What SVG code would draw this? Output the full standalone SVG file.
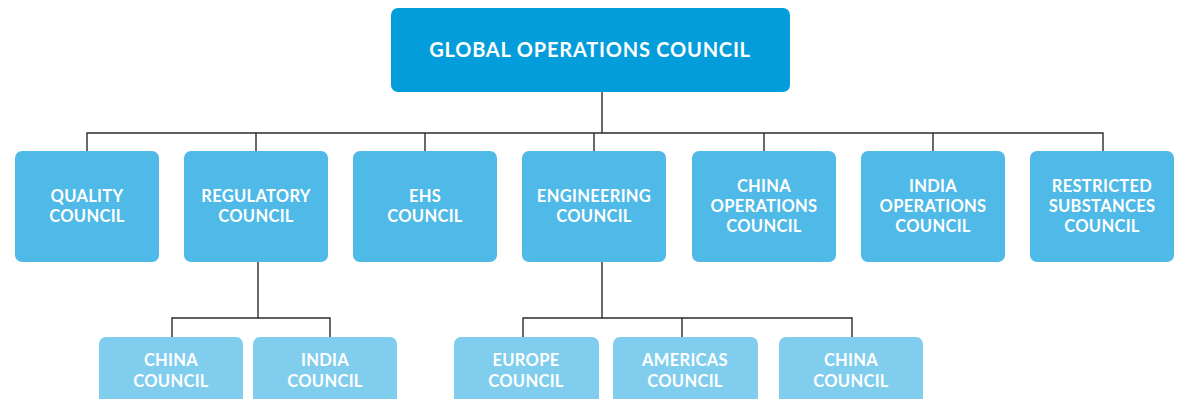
<svg xmlns="http://www.w3.org/2000/svg" width="1180" height="399" viewBox="0 0 1180 399">
<style>
.top{fill:#049ddc}
.mid{fill:#4fb9e7}
.low{fill:#80cdee}
text{font-family:Lato,"Open Sans",sans-serif;font-weight:700;fill:#fff;text-anchor:middle;font-size:16.5px;letter-spacing:0.3px}
.big{font-size:20px;letter-spacing:0.8px}
.con{fill:none;stroke:#2b2b2b;stroke-width:1.4}
</style>
<rect width="1180" height="399" fill="#fff"/>
<g id="connectors" class="con">
<path d="M602 92V133M87 151V133H1103V151M256 133V151M425 133V151M594 133V151M764 133V151M933 133V151"/>
<path d="M258 262V318M172 337V318H330V337"/>
<path d="M602 262V318M523 337V318H852V337M682 318V337"/>
</g>
<g id="global"><rect class="top" x="391" y="8" width="399" height="84" rx="7"/><text class="big" x="590" y="57">GLOBAL OPERATIONS COUNCIL</text></g>
<g id="quality"><rect class="mid" x="15" y="151" width="144" height="111" rx="7"/><text x="87" y="202">QUALITY</text><text x="87" y="222">COUNCIL</text></g>
<g id="regulatory"><rect class="mid" x="184" y="151" width="144" height="111" rx="7"/><text x="256" y="202">REGULATORY</text><text x="256" y="222">COUNCIL</text></g>
<g id="ehs"><rect class="mid" x="353" y="151" width="144" height="111" rx="7"/><text x="425" y="202">EHS</text><text x="425" y="222">COUNCIL</text></g>
<g id="engineering"><rect class="mid" x="522" y="151" width="144" height="111" rx="7"/><text x="594" y="202">ENGINEERING</text><text x="594" y="222">COUNCIL</text></g>
<g id="china-ops"><rect class="mid" x="692" y="151" width="144" height="111" rx="7"/><text x="764" y="192">CHINA</text><text x="764" y="212">OPERATIONS</text><text x="764" y="232">COUNCIL</text></g>
<g id="india-ops"><rect class="mid" x="861" y="151" width="144" height="111" rx="7"/><text x="933" y="192">INDIA</text><text x="933" y="212">OPERATIONS</text><text x="933" y="232">COUNCIL</text></g>
<g id="restricted"><rect class="mid" x="1030" y="151" width="144" height="111" rx="7"/><text x="1102" y="192">RESTRICTED</text><text x="1102" y="212">SUBSTANCES</text><text x="1102" y="232">COUNCIL</text></g>
<g id="reg-china"><rect class="low" x="99" y="337" width="144" height="80" rx="7"/><text x="171" y="366">CHINA</text><text x="171" y="387">COUNCIL</text></g>
<g id="reg-india"><rect class="low" x="253" y="337" width="144" height="80" rx="7"/><text x="325" y="366">INDIA</text><text x="325" y="387">COUNCIL</text></g>
<g id="eng-europe"><rect class="low" x="454" y="337" width="145" height="80" rx="7"/><text x="526" y="366">EUROPE</text><text x="526" y="387">COUNCIL</text></g>
<g id="eng-americas"><rect class="low" x="613" y="337" width="145" height="80" rx="7"/><text x="685" y="366">AMERICAS</text><text x="685" y="387">COUNCIL</text></g>
<g id="eng-china"><rect class="low" x="779" y="337" width="144" height="80" rx="7"/><text x="851" y="366">CHINA</text><text x="851" y="387">COUNCIL</text></g>
</svg>
